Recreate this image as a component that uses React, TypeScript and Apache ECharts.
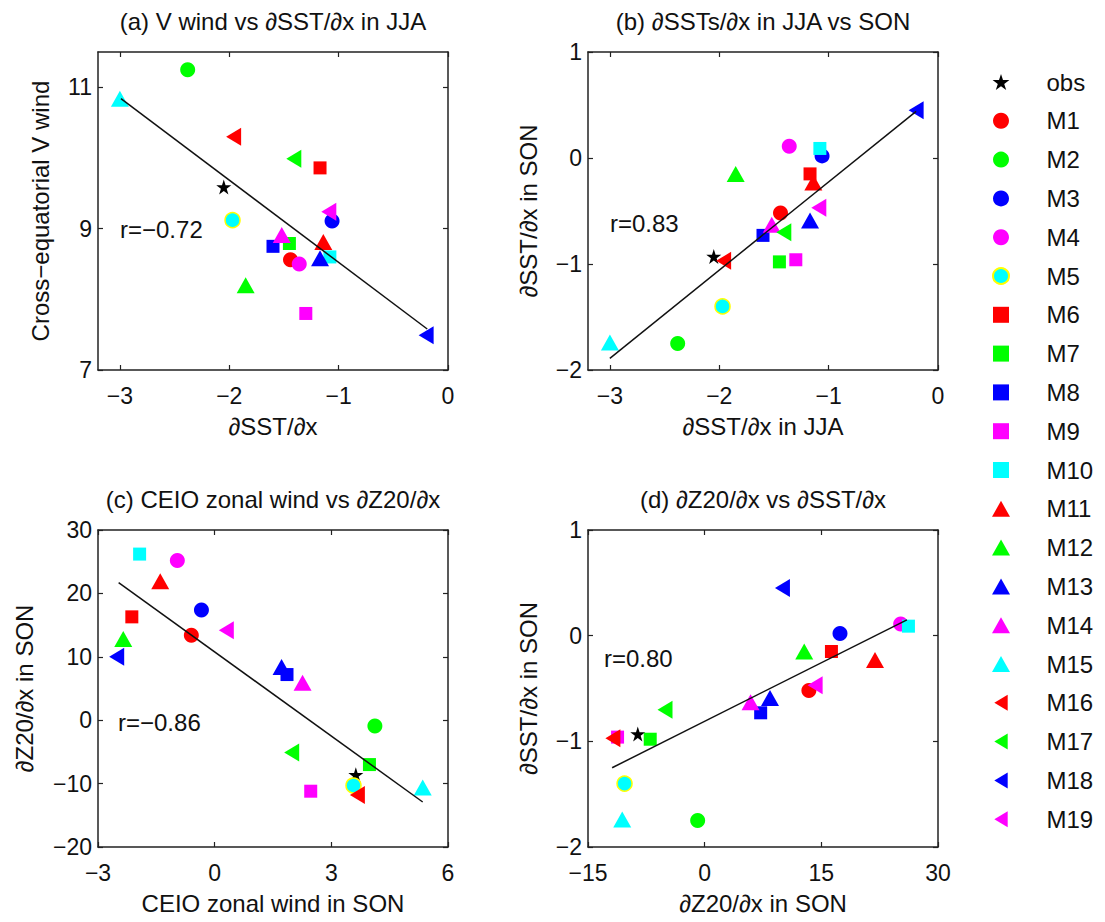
import React, { useEffect, useRef } from 'react';
import * as echarts from 'echarts';

// ---------- data ----------
const models = ['obs', 'M1', 'M2', 'M3', 'M4', 'M5', 'M6', 'M7', 'M8', 'M9', 'M10',
  'M11', 'M12', 'M13', 'M14', 'M15', 'M16', 'M17', 'M18', 'M19'];

// dSST/dx in JJA (x of a, b)
const sstJJA = [-2.05, -1.44, -2.38, -1.06, -1.36, -1.97, -1.17, -1.45, -1.60, -1.30, -1.08,
  -1.14, -1.85, -1.17, -1.52, -3.0, -1.96, -1.41, -0.20, -1.09];
// cross-equatorial V wind (y of a)
const vWind = [9.59, 8.56, 11.25, 9.11, 8.50, 9.12, 9.86, 8.79, 8.75, 7.80, 8.60,
  8.81, 8.20, 8.58, 8.91, 10.84, 10.30, 9.99, 7.49, 9.24];
// dSST/dx in SON (y of b, d)
const sstSON = [-0.93, -0.52, -1.75, 0.02, 0.11, -1.40, -0.15, -0.98, -0.73, -0.96, 0.09,
  -0.23, -0.15, -0.59, -0.63, -1.74, -0.97, -0.70, 0.45, -0.47];
// CEIO zonal wind in SON (x of c)
const uWind = [3.63, -0.60, 4.12, -0.34, -0.96, 3.57, -2.13, 3.98, 1.86, 2.47, -1.93,
  -1.40, -2.35, 1.72, 2.26, 5.35, 3.67, 1.98, -2.52, 0.30];
// dZ20/dx in SON (y of c, x of d)
const z20 = [-8.6, 13.4, -0.9, 17.4, 25.2, -10.3, 16.3, -7.0, 7.2, -11.2, 26.2,
  21.9, 12.8, 8.4, 5.9, -10.6, -11.8, -5.1, 10.0, 14.2];

// regression line end points
const lineA = [[-2.99, 10.84], [-0.19, 7.58]];
const lineB = [[-3.0, -1.89], [-0.2, 0.44]];
const lineC = [[-2.47, 21.7], [5.35, -12.9]];
const lineD = [[-11.9, -1.25], [26.0, 0.15]];

const ticksSST = [-3, -2, -1, 0];
const ticksV = [7, 9, 11];
const ticksSON = [-2, -1, 0, 1];
const ticksU = [-3, 0, 3, 6];
const ticksZ = [-20, -10, 0, 10, 20, 30];
const ticksZx = [-15, 0, 15, 30];

const rLabels = ['r=−0.72', 'r=0.83', 'r=−0.86', 'r=0.80'];

// ---------- styles ----------
const FONT = '"Liberation Sans", Arial, Helvetica, sans-serif';
const INK = '#111111';
const STAR = 'path://M50,0 L61.23,34.55 L97.55,34.55 L68.17,55.9 L79.39,90.45 L50,69.1 L20.61,90.45 L31.83,55.9 L2.45,34.55 L38.77,34.55 Z';
const LEFT_TRI = 'path://M0,9 L15,0 L15,18 Z';
const UP_TRI = 'path://M9,0 L18,16 L0,16 Z';
const SQUARE = 'path://M0,0 L13,0 L13,13 L0,13 Z';
const palette = ['#ff0000', '#00ff00', '#0000ff', '#ff00ff', '#00ffff'];

function markerOf(i: number) {
  if (i === 0) return { symbol: STAR, size: [15, 15] as any, color: '#000000' };
  const k = i - 1;
  const color = palette[k % 5];
  if (k < 5) return { symbol: 'circle', size: 15, color };
  if (k < 10) return { symbol: SQUARE, size: [13, 13], color };
  if (k < 15) return { symbol: UP_TRI, size: [18, 16], color };
  return { symbol: LEFT_TRI, size: [15, 18], color: palette[(k - 15) % 5] };
}

const fmt = (v: number) => String(v).replace('-', '−');

export default function App() {
  const ref = useRef<HTMLDivElement>(null);
  useEffect(() => {
    if (!ref.current) return;
    const chart = echarts.init(ref.current, undefined, { renderer: 'svg' });

    const panels = [
      { title: '(a) V wind vs ∂SST/∂x in JJA', x: sstJJA, y: vWind, line: lineA,
        xMin: -3.2, xMax: 0, xTicks: ticksSST, yMin: 7, yMax: 11.5, yTicks: ticksV,
        xName: '∂SST/∂x', yName: 'Cross−equatorial V wind',
        grid: { left: 98, top: 52, width: 350, height: 318 }, yGap: 46, rPos: [120, 229] },
      { title: '(b) ∂SSTs/∂x in JJA vs SON', x: sstJJA, y: sstSON, line: lineB,
        xMin: -3.2, xMax: 0, xTicks: ticksSST, yMin: -2, yMax: 1, yTicks: ticksSON,
        xName: '∂SST/∂x in JJA', yName: '∂SST/∂x in SON',
        grid: { left: 588, top: 52, width: 350, height: 318 }, yGap: 48, rPos: [610, 223] },
      { title: '(c) CEIO zonal wind vs ∂Z20/∂x', x: uWind, y: z20, line: lineC,
        xMin: -3, xMax: 6, xTicks: ticksU, yMin: -20, yMax: 30, yTicks: ticksZ,
        xName: 'CEIO zonal wind in SON', yName: '∂Z20/∂x in SON',
        grid: { left: 98, top: 530, width: 350, height: 317 }, yGap: 62, rPos: [118, 722] },
      { title: '(d) ∂Z20/∂x vs ∂SST/∂x', x: z20, y: sstSON, line: lineD,
        xMin: -15, xMax: 30, xTicks: ticksZx, yMin: -2, yMax: 1, yTicks: ticksSON,
        xName: '∂Z20/∂x in SON', yName: '∂SST/∂x in SON',
        grid: { left: 588, top: 530, width: 350, height: 317 }, yGap: 48, rPos: [604, 658] },
    ];

    const axisLine = { show: true, onZero: false, lineStyle: { color: '#222', width: 1.5 } };
    const tickStyle = { color: '#222', width: 1.2 };
    const nameStyle = { fontSize: 24, color: INK, fontFamily: FONT };
    const labelBase = { fontSize: 23, color: INK, fontFamily: FONT, formatter: fmt };

    const xAxis: any[] = [];
    const yAxis: any[] = [];
    const grid: any[] = [];
    const series: any[] = [];
    const graphic: any[] = [];

    panels.forEach((p, g) => {
      grid.push({ ...p.grid, containLabel: false, outerBoundsMode: 'none', show: false });
      xAxis.push({
        type: 'value', gridIndex: g, position: 'bottom', min: p.xMin, max: p.xMax,
        axisLine, splitLine: { show: false },
        axisTick: { show: true, inside: true, length: 5, customValues: p.xTicks, lineStyle: tickStyle },
        axisLabel: { ...labelBase, margin: 14, customValues: p.xTicks },
        name: p.xName, nameLocation: 'middle', nameGap: 44, nameTextStyle: nameStyle,
      });
      xAxis.push({
        type: 'value', gridIndex: g, position: 'top', min: p.xMin, max: p.xMax,
        axisLine, splitLine: { show: false },
        axisTick: { show: true, inside: true, length: 5, customValues: p.xTicks, lineStyle: tickStyle },
        axisLabel: { show: false, customValues: p.xTicks },
      });
      yAxis.push({
        type: 'value', gridIndex: g, position: 'left', min: p.yMin, max: p.yMax,
        axisLine, splitLine: { show: false },
        axisTick: { show: true, inside: true, length: 5, customValues: p.yTicks, lineStyle: tickStyle },
        axisLabel: { ...labelBase, margin: 6, customValues: p.yTicks },
        name: p.yName, nameLocation: 'middle', nameGap: p.yGap, nameTextStyle: nameStyle,
      });
      yAxis.push({
        type: 'value', gridIndex: g, position: 'right', min: p.yMin, max: p.yMax,
        axisLine, splitLine: { show: false },
        axisTick: { show: true, inside: true, length: 5, customValues: p.yTicks, lineStyle: tickStyle },
        axisLabel: { show: false, customValues: p.yTicks },
      });

      models.forEach((name, i) => {
        const m = markerOf(i);
        const isM5 = name === 'M5';
        series.push({
          type: 'scatter', name, xAxisIndex: 2 * g, yAxisIndex: 2 * g,
          data: [[p.x[i], p.y[i]]],
          symbol: m.symbol, symbolSize: m.size,
          itemStyle: {
            color: m.color, opacity: 1,
            borderColor: isM5 ? '#ffff00' : 'transparent', borderWidth: isM5 ? 1.5 : 0,
          },
          emphasis: { disabled: true },
          z: 3,
        });
      });
      series.push({
        type: 'line', xAxisIndex: 2 * g, yAxisIndex: 2 * g, data: p.line,
        showSymbol: false, symbol: 'none', silent: true,
        lineStyle: { color: '#111', width: 1.5 }, z: 5,
      });

      graphic.push({
        type: 'text', x: p.grid.left + p.grid.width / 2, y: p.grid.top - 31,
        style: { text: p.title, font: `24px ${FONT}`, fill: INK, align: 'center', verticalAlign: 'middle' },
      });
      graphic.push({
        type: 'text', x: p.rPos[0], y: p.rPos[1],
        style: { text: rLabels[g], font: `24px ${FONT}`, fill: INK, align: 'left', verticalAlign: 'middle' },
      });
    });

    chart.setOption({
      animation: false,
      backgroundColor: '#ffffff',
      grid, xAxis, yAxis, series, graphic,
      legend: {
        data: models, orient: 'vertical', left: 992, top: 69, padding: 0,
        itemWidth: 81, itemHeight: 16, itemGap: 12.8,
        symbolKeepAspect: true,
        selectedMode: false,
        textStyle: { fontSize: 24, color: INK, fontFamily: FONT, lineHeight: 26 },
      },
    });
    return () => chart.dispose();
  }, []);
  return <div ref={ref} style={{ position: 'absolute', left: 0, top: 0, width: 1105, height: 922 }} />;
}
